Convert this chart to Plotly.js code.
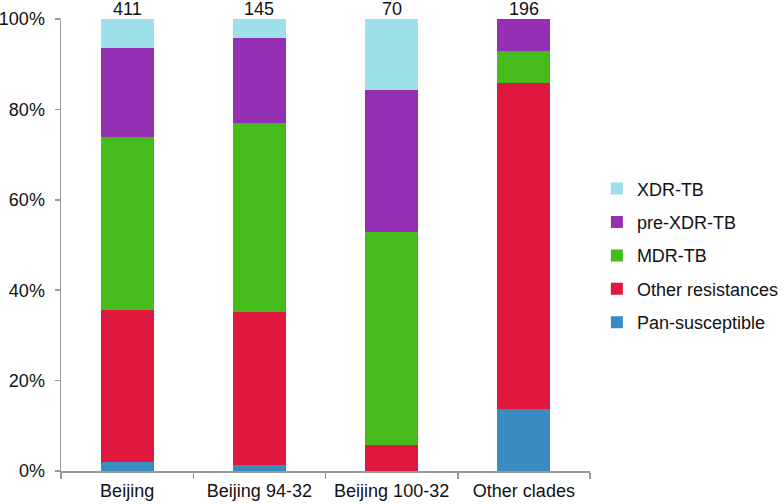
<!DOCTYPE html>
<html>
<head>
<meta charset="utf-8">
<script src="https://cdn.plot.ly/plotly-3.0.1.min.js"></script>
<style>
  html, body { margin: 0; padding: 0; background: #fff; }
  #chart { width: 784px; height: 504px; }
</style>
</head>
<body>
<div id="chart"></div>
<script>
const clades = ['Beijing', 'Beijing 94-32', 'Beijing 100-32', 'Other clades'];
const counts = [411, 145, 70, 196];

// percent of isolates per clade
const panSusceptible = [1.9, 1.3, 0, 13.7];
const otherResist = [33.7, 33.8, 5.7, 72.1];
const mdrTB = [38.3, 42.0, 47.1, 7.2];
const preXdrTB = [19.6, 18.8, 31.5, 7.0];
const xdrTB = [6.5, 4.1, 15.7, 0];

const yTickVals = [0, 20, 40, 60, 80, 100];
const yTickText = ['0%', '20%', '40%', '60%', '80%', '100%'];

const seriesNames = ['Pan-susceptible', 'Other resistances', 'MDR-TB', 'pre-XDR-TB', 'XDR-TB'];
const seriesValues = [panSusceptible, otherResist, mdrTB, preXdrTB, xdrTB];
const seriesColors = ['#3a8bc2', '#e0173f', '#45bb1c', '#9530b5', '#9ee0e9'];

const font = 'Liberation Sans, Arial, sans-serif';

// stacked bottom-up; legend lists top segment first
const traces = seriesNames.map((name, i) => ({
  type: 'bar',
  name: name,
  legendgroup: name,
  legendrank: 1000 - i,
  x: clades,
  y: seriesValues[i],
  width: 0.4,
  marker: { color: seriesColors[i], line: { width: 0 } },
  hoverinfo: 'name+y'
}));

const annotations = clades.map((c, i) => ({
  x: c, y: 100, xref: 'x', yref: 'y',
  text: String(counts[i]), showarrow: false,
  yanchor: 'bottom', yshift: -2,
  font: { family: font, size: 18, color: '#111' }
}));

const layout = {
  width: 784, height: 504,
  margin: { l: 61, r: 194, t: 19, b: 33, autoexpand: false },
  paper_bgcolor: '#fff', plot_bgcolor: '#fff',
  font: { family: font, size: 18, color: '#111' },
  barmode: 'stack',
  showlegend: true,
  legend: {
    x: 1.013, xanchor: 'left', y: 0.477, yanchor: 'middle',
    traceorder: 'grouped', tracegroupgap: 7,
    font: { family: font, size: 18, color: '#111' },
    bgcolor: 'rgba(0,0,0,0)', borderwidth: 0
  },
  xaxis: {
    type: 'category',
    showline: true, linecolor: '#999', linewidth: 1.5,
    ticks: 'outside', tickson: 'boundaries', ticklen: 6, tickcolor: '#999', tickwidth: 1.5,
    showgrid: false, zeroline: false,
    tickfont: { family: font, size: 18, color: '#111' },
    ticklabelstandoff: 3
  },
  yaxis: {
    range: [0, 100], tickmode: 'array', tickvals: yTickVals, ticktext: yTickText,
    showline: true, linecolor: '#999', linewidth: 1.5,
    ticks: 'outside', ticklen: 5, tickcolor: '#999', tickwidth: 1.5,
    showgrid: false, zeroline: false,
    tickfont: { family: font, size: 18, color: '#111' },
    ticklabelstandoff: 6
  },
  annotations: annotations
};

Plotly.newPlot('chart', traces, layout, { displayModeBar: false, staticPlot: true });
</script>
</body>
</html>
